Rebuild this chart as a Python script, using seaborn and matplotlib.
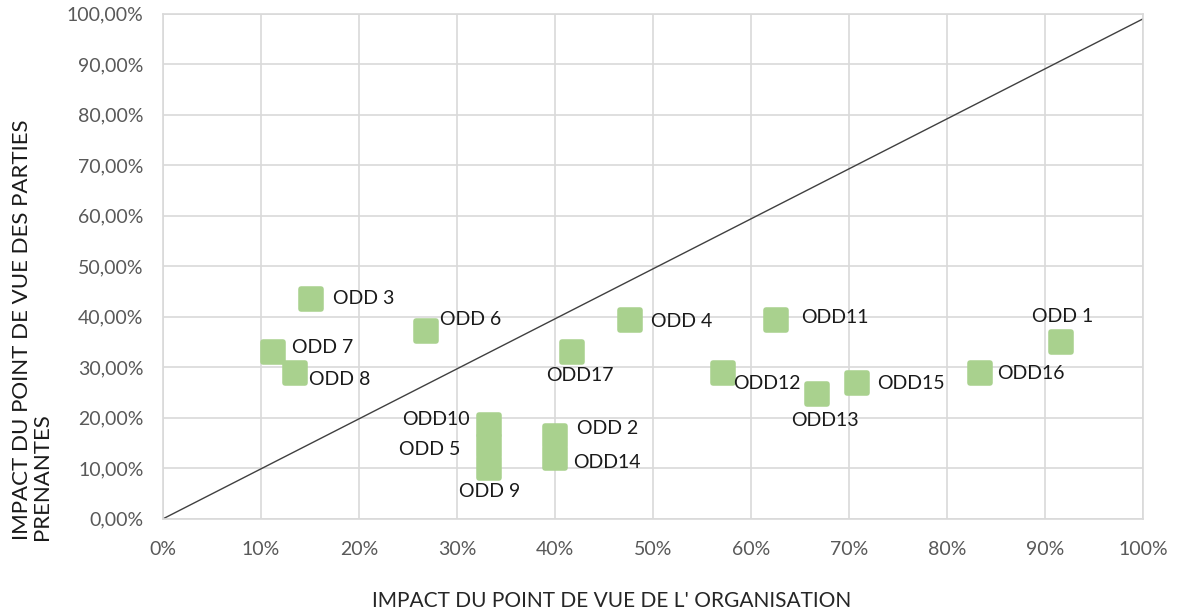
import matplotlib
matplotlib.use("Agg")
from matplotlib import pyplot as plt
from matplotlib.ticker import FuncFormatter
import seaborn as sns
import pandas as pd

labels = ["ODD 1", "ODD 2", "ODD 3", "ODD 4", "ODD 5", "ODD 6", "ODD 7", "ODD 8", "ODD 9",
          "ODD10", "ODD11", "ODD12", "ODD13", "ODD14", "ODD15", "ODD16", "ODD17"]
organisation = [0.916, 0.40, 0.151, 0.477, 0.333, 0.268, 0.112, 0.135, 0.333,
                0.333, 0.626, 0.571, 0.667, 0.40, 0.708, 0.834, 0.417]
parties = [0.350, 0.164, 0.436, 0.394, 0.145, 0.372, 0.331, 0.289, 0.101,
           0.186, 0.394, 0.289, 0.248, 0.121, 0.269, 0.289, 0.331]
diag_x = [0, 1]
diag_y = [0, 0.99]

# label offsets in pixels (dx, dy, ha)
offsets = {
    "ODD 1": (2, 26, "center"), "ODD 2": (22, 8, "left"),
    "ODD 3": (22, 0, "left"), "ODD 4": (21, -2, "left"),
    "ODD 5": (-29, -4, "right"), "ODD 6": (14, 11, "left"),
    "ODD 7": (19, 4, "left"), "ODD 8": (14, -7, "left"),
    "ODD 9": (0, -24, "center"), "ODD10": (-20, 5, "right"),
    "ODD11": (25, 2, "left"), "ODD12": (44, -11, "center"),
    "ODD13": (8, -27, "center"), "ODD14": (18, -5, "left"),
    "ODD15": (20, -1, "left"), "ODD16": (17, -1, "left"),
    "ODD17": (8, -24, "center"),
}

df = pd.DataFrame({"label": labels, "org": organisation, "pp": parties})

sns.set_style("white")
plt.rcParams['font.family'] = ['Lato', 'DejaVu Sans']

fig = plt.figure(figsize=(11.77, 6.14), dpi=100)
ax = fig.add_axes([0.1385, 0.155, 0.8326, 0.8225])

ax.plot(diag_x, diag_y, color='#404040', lw=1, zorder=2)
sns.scatterplot(data=df, x='org', y='pp', marker='s', s=15**2, color='#a9d18e',
                edgecolor='#a9d18e', linewidth=4, ax=ax, zorder=3)
ax.collections[-1].set_joinstyle('round')

for lab, x, y in zip(labels, organisation, parties):
    dx, dy, ha = offsets[lab]
    ax.annotate(lab, (x, y), xytext=(dx, dy), textcoords='offset pixels',
                ha=ha, va='center', fontsize=14, color='#1a1a1a', zorder=4)

ax.set_xlim(0, 1)
ax.set_ylim(0, 1)
ax.set_xticks([i / 10 for i in range(11)])
ax.set_yticks([i / 10 for i in range(11)])
ax.xaxis.set_major_formatter(FuncFormatter(lambda v, p: f"{v*100:.0f}%"))
ax.yaxis.set_major_formatter(FuncFormatter(lambda v, p: f"{v*100:.2f}%".replace('.', ',')))
ax.tick_params(axis='both', labelsize=14, labelcolor='#595959', length=0)
ax.tick_params(axis='x', pad=16)
ax.tick_params(axis='y', pad=14)
ax.grid(True, color='#d9d9d9', lw=1.2)
for s in ax.spines.values():
    s.set_color('#d9d9d9')
    s.set_linewidth(1.2)
ax.set_axisbelow(True)
ax.set_xlabel("")
ax.set_ylabel("")

fig.text(0.5195, 0.021, "IMPACT DU POINT DE VUE DE L' ORGANISATION", fontsize=15,
         color='#262626', ha='center', va='center')
fig.text(0.0272, 0.4634, "IMPACT DU POINT DE VUE DES PARTIES\nPRENANTES", fontsize=16,
         color='#1a1a1a', rotation=90, ha='center', va='center', multialignment='left',
         linespacing=1.05)

fig.savefig("out.png", dpi=100)
